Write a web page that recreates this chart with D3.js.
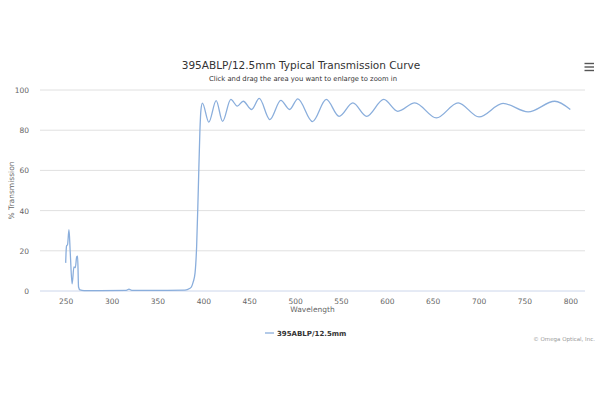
<!DOCTYPE html>
<html>
<head>
<meta charset="utf-8">
<script src="https://cdn.jsdelivr.net/npm/d3@7/dist/d3.min.js"></script>
<style>
  body { margin: 0; background: #fff; }
  svg { font-family: "DejaVu Sans", sans-serif; }
</style>
</head>
<body>
<div id="chart"></div>
<script>
// wavelength (nm) and % transmission
const wavelengths = [250, 250.5, 251, 252, 253.6, 255, 257, 259, 260.5, 262, 263, 264, 265.6, 270,
  316, 319, 322, 380, 385, 387, 389, 391, 392.7, 394.5, 396.3, 397.4, 399,
  406, 414, 421, 430, 437, 443.5, 452.6, 461, 472.5, 484.5, 494, 503, 519, 534, 548, 563,
  578, 596.7, 612, 630.5, 654, 677.7, 700.5, 726.7, 754, 783, 800];
const transmission = [14, 20, 22.5, 23, 30.5, 18.8, 3.5, 12, 11.6, 17, 17.4, 2, 0.5, 0.2,
  0.3, 0.9, 0.3, 0.4, 1.2, 2, 4.5, 9, 22, 50, 80, 90, 93.5,
  84, 94.7, 84.4, 95.3, 92, 94.4, 90.3, 95.8, 85.3, 94.8, 90.3, 95.6, 84.3, 95.3, 86.9, 93.6,
  86.9, 95.3, 89.4, 93.6, 86.1, 93.6, 86.6, 93.3, 89.1, 94.4, 90.3];
const xTicks = [250, 300, 350, 400, 450, 500, 550, 600, 650, 700, 750, 800];
const yTicks = [0, 20, 40, 60, 80, 100];
const seriesName = "395ABLP/12.5mm";

const width = 600, height = 400;
const plot = { left: 40, right: 585, top: 90, bottom: 291 };

const svg = d3.select("#chart").append("svg")
  .attr("width", width)
  .attr("height", height);

const x = d3.scaleLinear().domain([222, 816]).range([plot.left, plot.right]);
const y = d3.scaleLinear().domain([0, 100]).range([plot.bottom, plot.top]);

// grid
svg.append("g")
  .selectAll("line")
  .data(yTicks)
  .join("line")
  .attr("x1", plot.left).attr("x2", plot.right)
  .attr("y1", d => y(d)).attr("y2", d => y(d))
  .attr("stroke", d => d === 0 ? "#ccd6eb" : "#e0e0e0")
  .attr("stroke-width", 1);

// y axis labels
const yAxis = svg.append("g")
  .attr("transform", `translate(${plot.left - 8},0)`)
  .call(d3.axisLeft(y).tickValues(yTicks).tickSize(0));
yAxis.select(".domain").remove();
yAxis.selectAll("text")
  .attr("fill", "#666").attr("font-size", 7.5).attr("dy", "0.32em")
  .style("font-family", "DejaVu Sans, sans-serif");

// x axis labels
const xAxis = svg.append("g")
  .attr("transform", `translate(0,${plot.bottom + 5})`)
  .call(d3.axisBottom(x).tickValues(xTicks).tickSize(0));
xAxis.select(".domain").remove();
xAxis.selectAll("text")
  .attr("fill", "#666").attr("font-size", 7.5)
  .style("font-family", "DejaVu Sans, sans-serif");

// axis titles
svg.append("text")
  .attr("x", (plot.left + plot.right) / 2).attr("y", 312)
  .attr("text-anchor", "middle").attr("font-size", 7.5).attr("fill", "#666")
  .text("Wavelength");
svg.append("text")
  .attr("transform", `translate(14,${(plot.top + plot.bottom) / 2}) rotate(-90)`)
  .attr("text-anchor", "middle").attr("font-size", 7.5).attr("fill", "#666")
  .text("% Transmission");

// title
svg.append("text")
  .attr("x", 301).attr("y", 69)
  .attr("text-anchor", "middle").attr("font-size", 10.5).attr("fill", "#333")
  .text("395ABLP/12.5mm Typical Transmission Curve");
svg.append("text")
  .attr("x", 303).attr("y", 81)
  .attr("text-anchor", "middle").attr("font-size", 6.8).attr("fill", "#333")
  .text("Click and drag the area you want to enlarge to zoom in");

// menu icon
svg.append("g")
  .selectAll("line")
  .data([0, 1, 2])
  .join("line")
  .attr("x1", 584.5).attr("x2", 594)
  .attr("y1", d => 63.5 + d * 3.5).attr("y2", d => 63.5 + d * 3.5)
  .attr("stroke", "#555").attr("stroke-width", 1.4);

// curve
const points = wavelengths.map((w, i) => [w, transmission[i]]);
const line = d3.line()
  .x(d => x(d[0]))
  .y(d => y(d[1]))
  .curve(d3.curveMonotoneX);

svg.append("path")
  .datum(points)
  .attr("fill", "none")
  .attr("stroke", "#8aaedc")
  .attr("stroke-width", 1.3)
  .attr("stroke-linejoin", "round")
  .attr("d", line);

// legend
const legend = svg.append("g").attr("transform", "translate(265,333)");
legend.append("line")
  .attr("x1", 0).attr("x2", 9).attr("y1", 0).attr("y2", 0)
  .attr("stroke", "#8aaedc").attr("stroke-width", 1.3);
legend.append("text")
  .attr("x", 12).attr("y", 3)
  .attr("font-size", 7).attr("font-weight", "bold").attr("fill", "#333")
  .text(seriesName);

// credit
svg.append("text")
  .attr("x", 595).attr("y", 341)
  .attr("text-anchor", "end").attr("font-size", 5.5).attr("fill", "#999")
  .text("© Omega Optical, Inc.");
</script>
</body>
</html>
